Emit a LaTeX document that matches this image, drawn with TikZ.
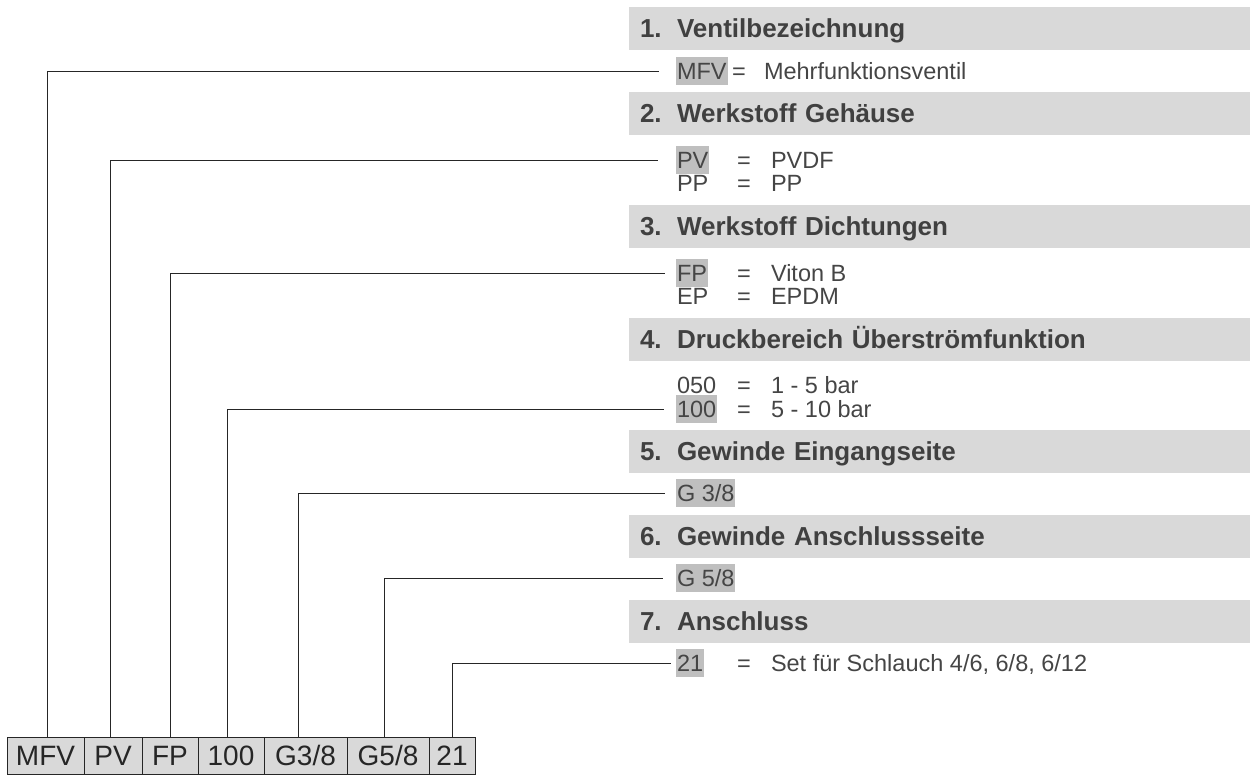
\documentclass[tikz,border=0pt]{standalone}
\usepackage{fontspec}
\setmainfont{Liberation Sans}
\definecolor{hdrfill}{HTML}{D9D9D9}
\definecolor{hlfill}{HTML}{BFBFBF}
\definecolor{hdrtxt}{HTML}{404040}
\definecolor{bodytxt}{HTML}{454545}
\definecolor{linecol}{HTML}{262626}
\newcommand{\hnum}[1]{\makebox[37pt][l]{#1}}
\begin{document}
\begin{tikzpicture}[x=1pt,y=-1pt,
  hdr/.style={fill=hdrfill, anchor=west, text width=599pt, inner xsep=11pt, inner ysep=0pt,
    minimum height=43pt, text height=18.7pt, text depth=0pt, align=left, outer sep=0pt,
    font=\fontsize{26}{31}\selectfont\bfseries, text=hdrtxt},
  code/.style={anchor=west, inner xsep=1pt, inner ysep=0pt, minimum height=28pt,
    text height=16.9pt, text depth=0pt, outer sep=0pt,
    font=\fontsize{23.5}{28}\selectfont, text=bodytxt},
  hlon/.style={fill=hlfill},
  eqs/.style={code},
  desc/.style={code},
  bx/.style={draw=linecol, line width=1pt, fill=hdrfill, anchor=west, outer sep=0pt,
    inner sep=0pt, minimum height=37pt, text height=20.1pt, text depth=0pt,
    font=\fontsize{28}{33}\selectfont, text=linecol},
  conn/.style={draw=linecol, line width=1pt}
]
\useasboundingbox (0,0) rectangle (1250,774);

% headers
\node[hdr] (h1) at (629,28.5) {\hnum{1.}Ventilbezeichnung};
\node[hdr] (h2) at (629,113) {\hnum{2.}Werkstoff Gehäuse};
\node[hdr] (h3) at (629,226) {\hnum{3.}Werkstoff Dichtungen};
\node[hdr] (h4) at (629,339) {\hnum{4.}Druckbereich Überströmfunktion};
\node[hdr] (h5) at (629,451) {\hnum{5.}Gewinde Eingangseite};
\node[hdr] (h6) at (629,536) {\hnum{6.}Gewinde Anschlussseite};
\node[hdr] (h7) at (629,621) {\hnum{7.}Anschluss};

% rows
\node[code,hlon] (c1) at (676,71) {MFV};
\node[eqs] (e1) at (731,71) {=};
\node[desc] (d1) at (763,71) {Mehrfunktionsventil};

\node[code,hlon] (c2) at (676,160) {PV};
\node[eqs] (e2) at (736,160) {=};
\node[desc] (d2) at (770,160) {PVDF};
\node[code] (c2b) at (676,183) {PP};
\node[eqs] (e2b) at (736,183) {=};
\node[desc] (d2b) at (770,183) {PP};

\node[code,hlon] (c3) at (676,273) {FP};
\node[eqs] (e3) at (736,273) {=};
\node[desc] (d3) at (770,273) {Viton B};
\node[code] (c3b) at (676,296) {EP};
\node[eqs] (e3b) at (736,296) {=};
\node[desc] (d3b) at (770,296) {EPDM};

\node[code] (c4a) at (676,385) {050};
\node[eqs] (e4a) at (736,385) {=};
\node[desc] (d4a) at (770,385) {1 - 5 bar};
\node[code,hlon] (c4) at (676,409) {100};
\node[eqs] (e4) at (736,409) {=};
\node[desc] (d4) at (770,409) {5 - 10 bar};

\node[code,hlon] (c5) at (676,493) {G 3/8};
\node[code,hlon] (c6) at (676,578) {G 5/8};

\node[code,hlon] (c7) at (676,663) {21};
\node[eqs] (e7) at (736,663) {=};
\node[desc] (d7) at (770,663) {Set für Schlauch 4/6, 6/8, 6/12};

% bottom boxes
\node[bx, minimum width=77pt] (b1) at (7,755.5) {MFV};
\node[bx, minimum width=58pt] (b2) at (b1.east) {PV};
\node[bx, minimum width=56pt] (b3) at (b2.east) {FP};
\node[bx, minimum width=66pt] (b4) at (b3.east) {100};
\node[bx, minimum width=83pt] (b5) at (b4.east) {G3/8};
\node[bx, minimum width=82pt] (b6) at (b5.east) {G5/8};
\node[bx, minimum width=46pt] (b7) at (b6.east) {21};

% connectors
\draw[conn] ([xshift=1.5pt]b1.north) |- ([xshift=-17pt]c1.west);
\draw[conn] ([xshift=-3pt]b2.north) |- ([xshift=-18pt]c2.west);
\draw[conn] (b3.north) |- ([xshift=-11pt]c3.west);
\draw[conn] ([xshift=-4pt]b4.north) |- ([xshift=-12pt]c4.west);
\draw[conn] ([xshift=-7.5pt]b5.north) |- ([xshift=-11pt]c5.west);
\draw[conn] ([xshift=-4pt]b6.north) |- ([xshift=-13pt]c6.west);
\draw[conn] (b7.north) |- ([xshift=-5pt]c7.west);
\end{tikzpicture}
\end{document}
